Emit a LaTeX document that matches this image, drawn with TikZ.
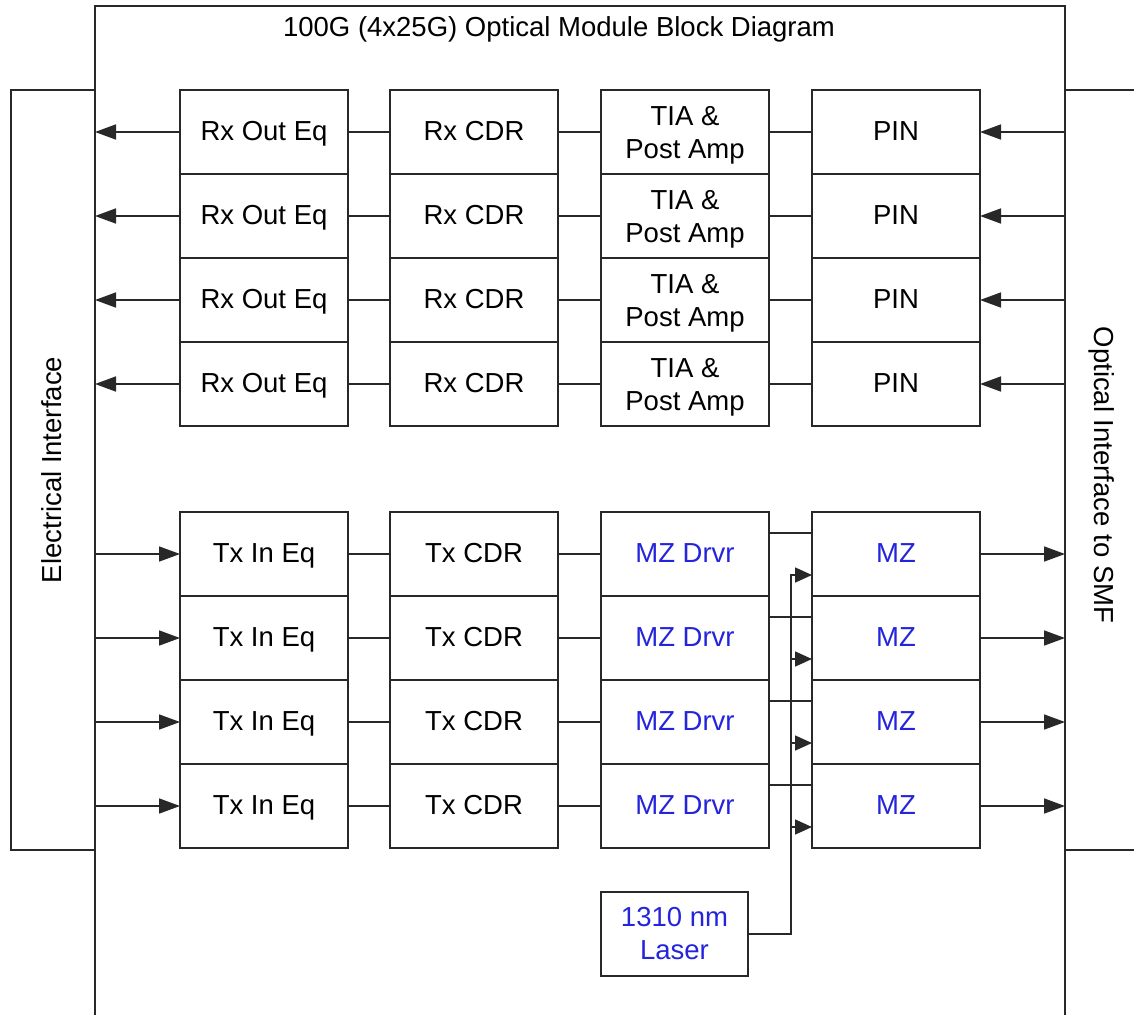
\documentclass[tikz,border=0pt]{standalone}
\usepackage{fontspec}
\setmainfont{Liberation Sans}
\usetikzlibrary{arrows.meta,calc}
\definecolor{ink}{RGB}{40,40,40}
\definecolor{bluetxt}{RGB}{36,36,220}
\begin{document}
\begin{tikzpicture}[x=1pt,y=-1pt,
  every node/.style={font=\fontsize{27.5}{33}\selectfont, text=black, text height=22pt, text depth=5.5pt},
  blk/.style={draw=ink, line width=1.6pt, minimum width=168pt, minimum height=84pt, inner sep=0pt, outer sep=0pt, align=center},
  twoline/.style={text height=, text depth=},
  bt/.style={text=bluetxt},
  ln/.style={draw=ink, line width=1.6pt},
  arr/.style={ln, -{Triangle[length=21pt,width=15pt]}},
  sarr/.style={ln, -{Triangle[length=17pt,width=15pt]}}]
\fill[white] (0,0) rectangle (1134,1015);
\useasboundingbox (0,0) rectangle (1134,1015);
% frame coordinates
\coordinate (mBL) at (95,1015);
\coordinate (mTL) at (95,6);
\coordinate (mTR) at (1065,6);
\coordinate (mBR) at (1065,1015);
\coordinate (mL) at (95,0);
\coordinate (mR) at (1065,0);
\coordinate (eTL) at (11,90);
\coordinate (eBR) at (95,850);
\coordinate (oT) at (1134,90);
\coordinate (oB) at (1134,850);
\coordinate (oTL) at (1065,90);
\coordinate (oBL) at (1065,850);
% main module outline
\draw[ln] (mBL) -- (mTL) -- (mTR) -- (mBR);
\node (title) at (559,28) {100G (4x25G) Optical Module Block Diagram};
% electrical interface
\draw[ln] (eTL) rectangle (eBR);
\node[rotate=90] (elec) at (53,470) {Electrical Interface};
% optical interface
\draw[ln] (oT) -- (oTL);
\draw[ln] (oB) -- (oBL);
\node[rotate=-90] (opt) at (1103,475) {Optical Interface to SMF};
% Rx chain
\foreach \i/\y in {1/132,2/216,3/300,4/384}{
  \node[blk] (req\i) at (264,\y) {Rx Out Eq};
  \node[blk] (rcdr\i) at (474,\y) {Rx CDR};
  \node[blk,twoline] (tia\i) at (685,\y) {\rule{0pt}{26pt}TIA \&\\Post Amp};
  \node[blk] (pin\i) at (896,\y) {PIN};
  \draw[ln] (req\i) -- (rcdr\i);
  \draw[ln] (rcdr\i) -- (tia\i);
  \draw[ln] (tia\i) -- (pin\i);
  \draw[arr] (req\i.west) -- (req\i.west -| mL);
  \draw[arr] (pin\i.east -| mR) -- (pin\i.east);
}
% Tx chain
\foreach \i/\y in {1/554,2/638,3/722,4/806}{
  \node[blk] (teq\i) at (264,\y) {Tx In Eq};
  \node[blk] (tcdr\i) at (474,\y) {Tx CDR};
  \node[blk,bt] (drv\i) at (685,\y) {MZ Drvr};
  \node[blk,bt] (mz\i) at (896,\y) {MZ};
  \draw[ln] (teq\i) -- (tcdr\i);
  \draw[ln] (tcdr\i) -- (drv\i);
  \coordinate (dout\i) at ($(drv\i.east)+(0,-21)$);
  \coordinate (mzin\i) at ($(mz\i.west)+(0,21)$);
  \draw[ln] (dout\i) -- (dout\i -| mz\i.west);
  \draw[arr] (teq\i.west -| mL) -- (teq\i.west);
  \draw[arr] (mz\i.east) -- (mz\i.east -| mR);
}
% laser
\node[blk,bt,twoline,minimum width=147pt] (laser) at (674.5,934) {1310 nm\\Laser};
\coordinate (lv) at (791,934);
\draw[sarr] (laser.east) -- (lv) |- (mzin1);
\foreach \i in {2,3,4}{
  \draw[sarr] (mzin\i -| lv) -- (mzin\i);
}
\end{tikzpicture}
\end{document}
